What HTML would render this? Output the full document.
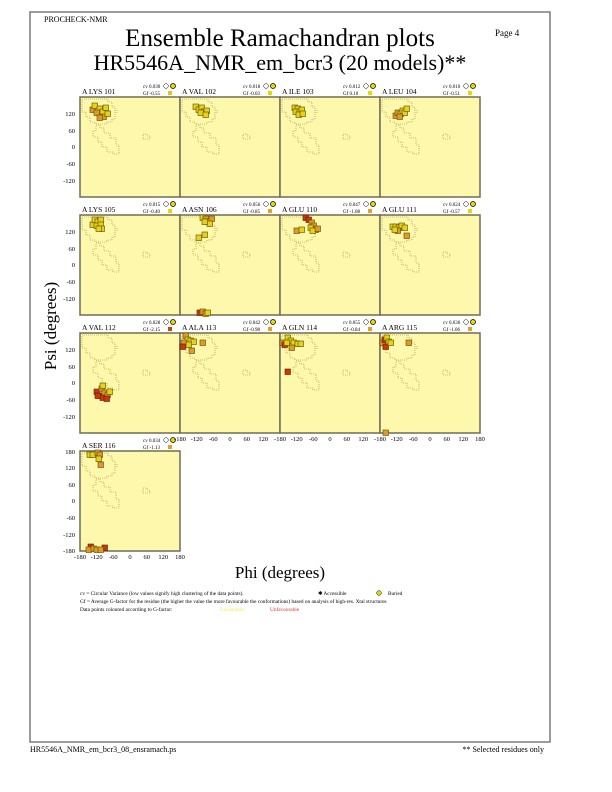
<!DOCTYPE html>
<html><head><meta charset="utf-8"><style>
html,body{margin:0;padding:0;background:#fff;}
svg{display:block;font-family:"Liberation Serif",serif;}
</style></head><body>
<svg width="612" height="792" viewBox="0 0 612 792" xmlns="http://www.w3.org/2000/svg">
<defs>
<g id="pan">
<rect x="0" y="0" width="100" height="100" fill="#fdf8ab" stroke="#6e6e55" stroke-width="1.5"/>
<g fill="none" stroke="#a08a40" stroke-width="0.6" stroke-dasharray="1,1">
<polygon points="2,2 28,2 28,5 32,5 32,10 35,10 35,22 32,22 32,25 27,25 27,27 15,27 15,25 10,25 10,20 6,20 6,15 2,15"/>
<polygon points="16,28 20,28 20,31 24,31 24,36 30,36 30,41 36,41 36,48 39,48 39,57 33,57 33,55 27,55 27,50 22,50 22,45 18,45 18,40 13,40 13,34 16,34"/>
<polygon points="63,37 67,37 67,39 70,39 70,42 63,42"/>
<line x1="37" y1="13" x2="37" y2="16"/>
</g>
</g>
<g id="hd">
<circle cx="86" cy="-11" r="2.3" fill="#fff" stroke="#000" stroke-width="0.5"/>
<circle cx="93" cy="-11" r="2.5" fill="#e8d800" stroke="#000" stroke-width="0.7"/>
</g>
<rect id="y" width="5.5" height="5.5" fill="#e6d21a" stroke="#5a4a00" stroke-width="0.6"/>
<rect id="o" width="5.5" height="5.5" fill="#e09a28" stroke="#5a4a00" stroke-width="0.6"/>
<rect id="r" width="5.5" height="5.5" fill="#cc3510" stroke="#5a2000" stroke-width="0.6"/>
</defs>
<rect x="30" y="12" width="520" height="730" fill="none" stroke="#666" stroke-width="1.3"/>
<text x="44" y="22" font-size="8">PROCHECK-NMR</text>
<text x="280" y="46" font-size="25" text-anchor="middle">Ensemble Ramachandran plots</text>
<text x="280" y="70" font-size="22" text-anchor="middle">HR5546A_NMR_em_bcr3 (20 models)**</text>
<text x="495" y="36" font-size="9">Page  4</text>

<!-- Row 1 -->
<g transform="translate(80,97)"><use href="#pan"/><use href="#hd"/><text x="2" y="-3" font-size="7.5">A LYS 101</text><text x="63" y="-9" font-size="5">cv 0.030</text><text x="63" y="-2" font-size="5">Gf -0.55</text><rect x="88" y="-6" width="4" height="4" fill="#e8c020"/>
<use href="#o" x="10" y="10"/><use href="#y" x="12" y="6"/><use href="#y" x="17" y="9"/><use href="#o" x="14" y="13"/><use href="#y" x="20" y="12"/><use href="#y" x="23" y="8"/><use href="#o" x="21" y="17"/><use href="#o" x="17" y="18"/><use href="#y" x="25" y="14"/></g>
<g transform="translate(180,97)"><use href="#pan"/><use href="#hd"/><text x="2" y="-3" font-size="7.5">A VAL 102</text><text x="63" y="-9" font-size="5">cv 0.018</text><text x="63" y="-2" font-size="5">Gf -0.03</text><rect x="88" y="-6" width="4" height="4" fill="#e8d800"/>
<use href="#y" x="13" y="7"/><use href="#y" x="16" y="10"/><use href="#y" x="19" y="8"/><use href="#y" x="21" y="12"/><use href="#y" x="24" y="11"/><use href="#y" x="18" y="13"/><use href="#y" x="23" y="15"/></g>
<g transform="translate(280,97)"><use href="#pan"/><use href="#hd"/><text x="2" y="-3" font-size="7.5">A ILE 103</text><text x="63" y="-9" font-size="5">cv 0.012</text><text x="63" y="-2" font-size="5">Gf 0.10</text><rect x="88" y="-6" width="4" height="4" fill="#e8d800"/>
<use href="#y" x="12" y="8"/><use href="#y" x="15" y="9"/><use href="#y" x="13" y="12"/><use href="#y" x="17" y="12"/><use href="#y" x="19" y="10"/><use href="#y" x="16" y="15"/><use href="#y" x="20" y="14"/></g>
<g transform="translate(380,97)"><use href="#pan"/><use href="#hd"/><text x="2" y="-3" font-size="7.5">A LEU 104</text><text x="63" y="-9" font-size="5">cv 0.010</text><text x="63" y="-2" font-size="5">Gf -0.51</text><rect x="88" y="-6" width="4" height="4" fill="#e8d800"/>
<use href="#o" x="13" y="16"/><use href="#o" x="15" y="13"/><use href="#y" x="18" y="14"/><use href="#y" x="20" y="11"/><use href="#y" x="22" y="13"/><use href="#y" x="24" y="9"/><use href="#o" x="17" y="17"/></g>

<!-- Row 2 -->
<g transform="translate(80,215)"><use href="#pan"/><use href="#hd"/><text x="2" y="-3" font-size="7.5">A LYS 105</text><text x="63" y="-9" font-size="5">cv 0.015</text><text x="63" y="-2" font-size="5">Gf -0.40</text><rect x="88" y="-6" width="4" height="4" fill="#e8d800"/>
<use href="#y" x="10" y="7"/><use href="#y" x="12" y="2"/><use href="#y" x="15" y="4"/><use href="#y" x="18" y="2"/><use href="#y" x="14" y="8"/><use href="#y" x="18" y="7"/><use href="#y" x="19" y="11"/><use href="#y" x="16" y="11"/></g>
<g transform="translate(180,215)"><use href="#pan"/><use href="#hd"/><text x="2" y="-3" font-size="7.5">A ASN 106</text><text x="63" y="-9" font-size="5">cv 0.056</text><text x="63" y="-2" font-size="5">Gf -0.85</text><rect x="88" y="-6" width="4" height="4" fill="#e8a020"/>
<use href="#y" x="20" y="0"/><use href="#o" x="23" y="1"/><use href="#y" x="25" y="4"/><use href="#o" x="29" y="1"/><use href="#y" x="27" y="6"/><use href="#y" x="22" y="4"/><use href="#y" x="16" y="20"/><use href="#y" x="22" y="17"/>
<use href="#r" x="17" y="95"/><use href="#o" x="20" y="94"/><use href="#o" x="23" y="96"/><use href="#y" x="25" y="95"/></g>
<g transform="translate(280,215)"><use href="#pan"/><use href="#hd"/><text x="2" y="-3" font-size="7.5">A GLU 110</text><text x="63" y="-9" font-size="5">cv 0.047</text><text x="63" y="-2" font-size="5">Gf -1.08</text><rect x="88" y="-6" width="4" height="4" fill="#e8a020"/>
<use href="#r" x="23" y="0"/><use href="#r" x="26" y="2"/><use href="#o" x="29" y="5"/><use href="#o" x="31" y="8"/><use href="#y" x="28" y="10"/><use href="#o" x="33" y="12"/><use href="#y" x="30" y="13"/><use href="#o" x="14" y="13"/><use href="#y" x="19" y="12"/><use href="#o" x="35" y="11"/></g>
<g transform="translate(380,215)"><use href="#pan"/><use href="#hd"/><text x="2" y="-3" font-size="7.5">A GLU 111</text><text x="63" y="-9" font-size="5">cv 0.024</text><text x="63" y="-2" font-size="5">Gf -0.57</text><rect x="88" y="-6" width="4" height="4" fill="#e8d800"/>
<use href="#y" x="10" y="9"/><use href="#y" x="13" y="9"/><use href="#y" x="16" y="10"/><use href="#y" x="19" y="8"/><use href="#y" x="22" y="10"/><use href="#o" x="15" y="13"/><use href="#o" x="24" y="18"/><use href="#y" x="12" y="12"/></g>

<!-- Row 3 -->
<g transform="translate(80,333)"><use href="#pan"/><use href="#hd"/><text x="2" y="-3" font-size="7.5">A VAL 112</text><text x="63" y="-9" font-size="5">cv 0.028</text><text x="63" y="-2" font-size="5">Gf -2.15</text><rect x="88" y="-6" width="4" height="4" fill="#d04010"/>
<use href="#r" x="14" y="56"/><use href="#r" x="17" y="60"/><use href="#o" x="19" y="53"/><use href="#o" x="22" y="57"/><use href="#r" x="20" y="62"/><use href="#o" x="25" y="59"/><use href="#y" x="27" y="56"/><use href="#r" x="15" y="60"/><use href="#r" x="24" y="63"/><use href="#y" x="20" y="50"/></g>
<g transform="translate(180,333)"><use href="#pan"/><use href="#hd"/><text x="2" y="-3" font-size="7.5">A ALA 113</text><text x="63" y="-9" font-size="5">cv 0.042</text><text x="63" y="-2" font-size="5">Gf -0.98</text><rect x="88" y="-6" width="4" height="4" fill="#e8a020"/>
<use href="#o" x="3" y="0"/><use href="#y" x="5" y="4"/><use href="#y" x="8" y="5"/><use href="#y" x="11" y="6"/><use href="#o" x="1" y="7"/><use href="#r" x="0" y="11"/><use href="#o" x="9" y="15"/><use href="#y" x="6" y="9"/><use href="#o" x="20" y="7"/></g>
<g transform="translate(280,333)"><use href="#pan"/><use href="#hd"/><text x="2" y="-3" font-size="7.5">A GLN 114</text><text x="63" y="-9" font-size="5">cv 0.055</text><text x="63" y="-2" font-size="5">Gf -0.84</text><rect x="88" y="-6" width="4" height="4" fill="#e8a020"/>
<use href="#o" x="0" y="7"/><use href="#r" x="2" y="9"/><use href="#y" x="5" y="2"/><use href="#y" x="8" y="5"/><use href="#y" x="11" y="7"/><use href="#y" x="15" y="8"/><use href="#y" x="18" y="8"/><use href="#o" x="9" y="12"/><use href="#y" x="4" y="7"/><use href="#r" x="5" y="36"/></g>
<g transform="translate(380,333)"><use href="#pan"/><use href="#hd"/><text x="2" y="-3" font-size="7.5">A ARG 115</text><text x="63" y="-9" font-size="5">cv 0.036</text><text x="63" y="-2" font-size="5">Gf -1.06</text><rect x="88" y="-6" width="4" height="4" fill="#e8a020"/>
<use href="#o" x="0" y="7"/><use href="#r" x="2" y="4"/><use href="#y" x="4" y="2"/><use href="#y" x="6" y="6"/><use href="#r" x="3" y="11"/><use href="#y" x="8" y="7"/><use href="#o" x="26" y="7"/><use href="#o" x="3" y="97"/></g>

<!-- Row 4 -->
<g transform="translate(80,451)"><use href="#pan"/><use href="#hd"/><text x="2" y="-3" font-size="7.5">A SER 116</text><text x="63" y="-9" font-size="5">cv 0.034</text><text x="63" y="-2" font-size="5">Gf -1.13</text><rect x="88" y="-6" width="4" height="4" fill="#e8a020"/>
<use href="#y" x="7" y="1"/><use href="#y" x="10" y="1"/><use href="#o" x="15" y="-1"/><use href="#o" x="17" y="1"/><use href="#y" x="16" y="5"/><use href="#o" x="18" y="11"/>
<use href="#r" x="8" y="93"/><use href="#o" x="6" y="96"/><use href="#o" x="11" y="95"/><use href="#o" x="14" y="96"/><use href="#r" x="22" y="94"/><use href="#o" x="18" y="96"/></g>

<!-- Y tick labels -->
<g font-size="6.5" text-anchor="end">
<g transform="translate(0,97)"><text x="75" y="19">120</text><text x="75" y="36">60</text><text x="75" y="52">0</text><text x="75" y="69">-60</text><text x="75" y="86">-120</text></g>
<g transform="translate(0,215)"><text x="75" y="19">120</text><text x="75" y="36">60</text><text x="75" y="52">0</text><text x="75" y="69">-60</text><text x="75" y="86">-120</text></g>
<g transform="translate(0,333)"><text x="75" y="19">120</text><text x="75" y="36">60</text><text x="75" y="52">0</text><text x="75" y="69">-60</text><text x="75" y="86">-120</text></g>
<g transform="translate(0,451)"><text x="75" y="3">180</text><text x="75" y="19">120</text><text x="75" y="36">60</text><text x="75" y="52">0</text><text x="75" y="69">-60</text><text x="75" y="86">-120</text><text x="75" y="102">-180</text></g>
</g>
<!-- X tick labels -->
<g font-size="6.5" text-anchor="middle">
<g transform="translate(80,559)"><text x="0">-180</text><text x="16.7">-120</text><text x="33.3">-60</text><text x="50">0</text><text x="66.7">60</text><text x="83.3">120</text><text x="100">180</text></g>
<g transform="translate(180,441)"><text x="0">-180</text><text x="16.7">-120</text><text x="33.3">-60</text><text x="50">0</text><text x="66.7">60</text><text x="83.3">120</text></g>
<g transform="translate(280,441)"><text x="0">-180</text><text x="16.7">-120</text><text x="33.3">-60</text><text x="50">0</text><text x="66.7">60</text><text x="83.3">120</text></g>
<g transform="translate(380,441)"><text x="0">-180</text><text x="16.7">-120</text><text x="33.3">-60</text><text x="50">0</text><text x="66.7">60</text><text x="83.3">120</text><text x="100">180</text></g>
</g>

<text transform="translate(56,326) rotate(-90)" font-size="17" text-anchor="middle">Psi (degrees)</text>
<text x="280" y="578" font-size="17" text-anchor="middle">Phi (degrees)</text>

<g font-size="5.3">
<text x="80" y="595">cv = Circular Variance (low values signify high clustering of the data points).</text>
<text x="318" y="595">✱  Accessible</text>
<circle cx="379" cy="593" r="2.3" fill="#e8d800" stroke="#000" stroke-width="0.5"/>
<text x="388" y="595">Buried</text>
<text x="80" y="603">Gf = Average G-factor for the residue (the higher the value the more favourable the conformations) based on analysis of high-res. Xtal structures</text>
<text x="80" y="611">Data points coloured according to G-factor:</text>
<text x="220" y="611" fill="#f0f040">Favourable</text>
<text x="270" y="611" fill="#e03030">Unfavourable</text>
</g>

<text x="30" y="752" font-size="8">HR5546A_NMR_em_bcr3_08_ensramach.ps</text>
<text x="544" y="752" font-size="8" text-anchor="end">** Selected residues only</text>
</svg>
</body></html>
